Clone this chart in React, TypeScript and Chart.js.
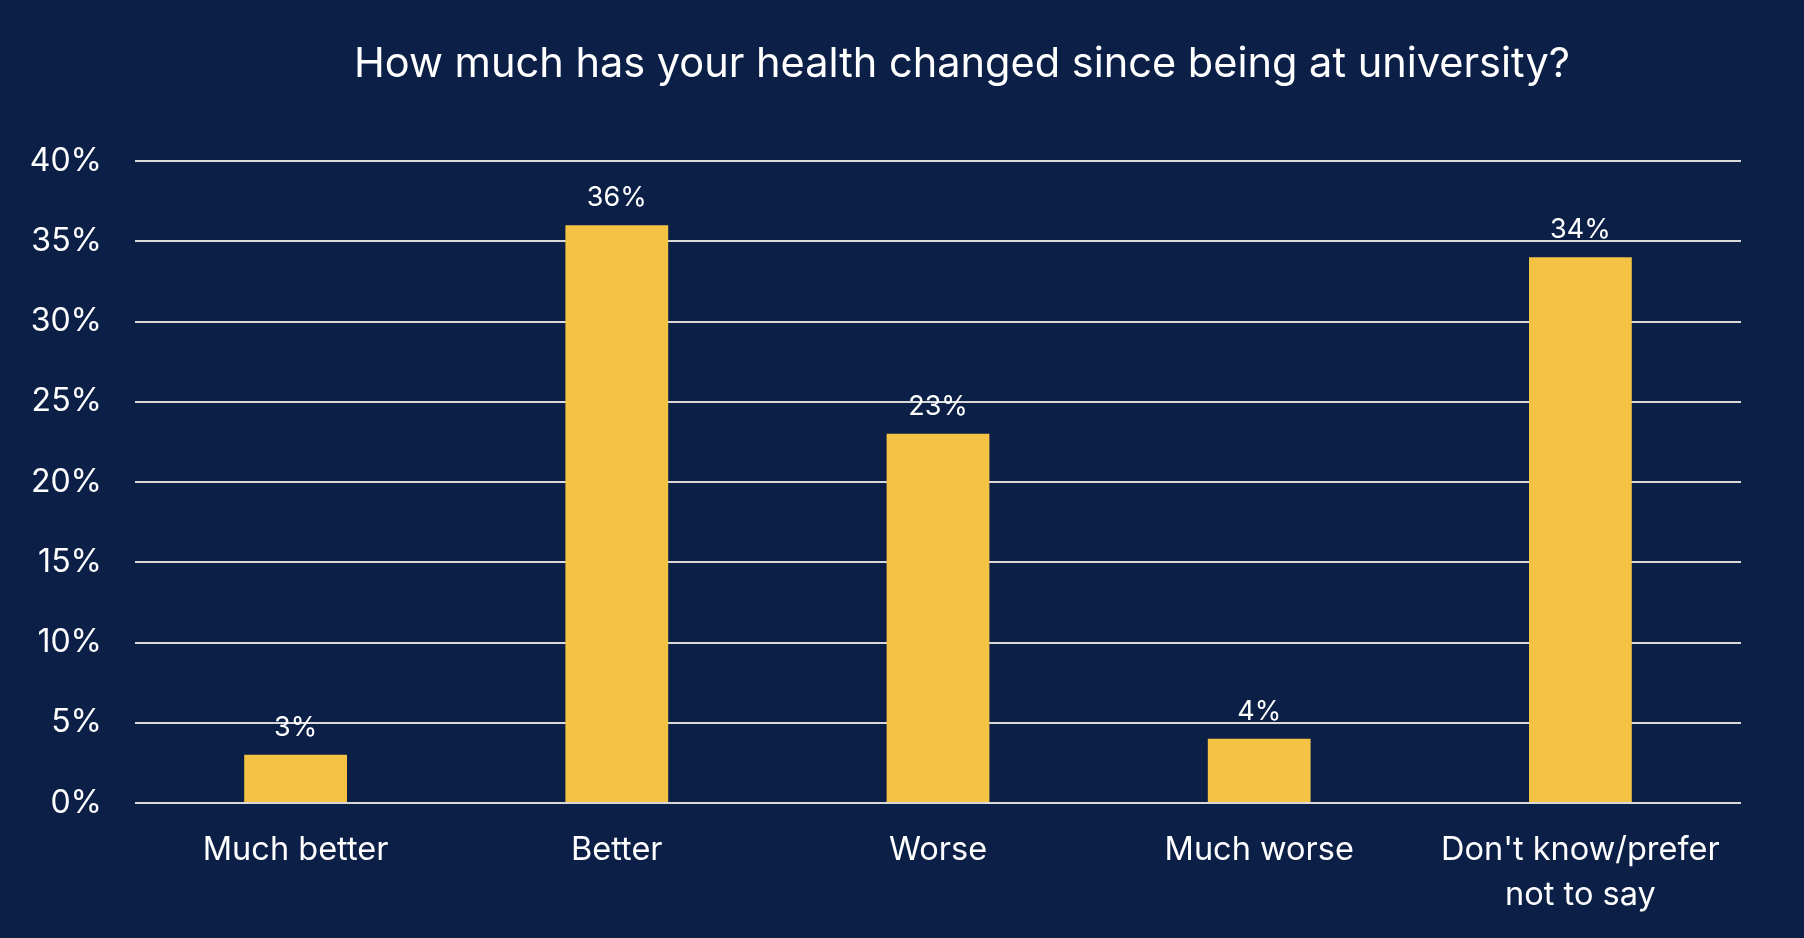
import React, { useEffect, useRef } from "react";
import { Chart, registerables } from "chart.js";

Chart.register(...registerables);

const categories: (string | string[])[] = [
  "Much better",
  "Better",
  "Worse",
  "Much worse",
  ["Don't know/prefer", "not to say"],
];
const values = [3, 36, 23, 4, 34];
const yMin = 0;
const yMax = 40;
const yStep = 5;
const titleText = "How much has your health changed since being at university?";

const BG = "#0b1f47";
const BAR = "#f5c343";
const GRID = "#d9d9d9";
const FONT = "Inter, 'Open Sans', sans-serif";

const titlePlugin = {
  id: "customTitle",
  afterDraw(chart: any) {
    const { ctx, chartArea } = chart;
    ctx.save();
    ctx.fillStyle = "#ffffff";
    ctx.font = `400 41.5px ${FONT}`;
    ctx.textAlign = "center";
    ctx.textBaseline = "alphabetic";
    ctx.fillText(titleText, (chartArea.left + chartArea.right) / 2 + 24, 77);
    ctx.restore();
  },
};

const valueLabelPlugin = {
  id: "valueLabels",
  afterDatasetsDraw(chart: any) {
    const { ctx } = chart;
    const meta = chart.getDatasetMeta(0);
    ctx.save();
    ctx.fillStyle = "#ffffff";
    ctx.font = `400 27px ${FONT}`;
    ctx.textAlign = "center";
    ctx.textBaseline = "alphabetic";
    meta.data.forEach((bar: any, i: number) => {
      ctx.fillText(`${values[i]}%`, bar.x, bar.y - 19);
    });
    ctx.restore();
  },
};

export default function App() {
  const ref = useRef<HTMLCanvasElement | null>(null);

  useEffect(() => {
    if (!ref.current) return;
    const chart = new Chart(ref.current, {
      type: "bar",
      data: {
        labels: categories as any,
        datasets: [
          {
            data: values,
            backgroundColor: BAR,
            borderWidth: 0,
            barPercentage: 0.64,
            categoryPercentage: 0.5,
          },
        ],
      },
      options: {
        animation: false,
        responsive: true,
        maintainAspectRatio: false,
        layout: { padding: { top: 161, right: 63, bottom: 0, left: 0 } },
        plugins: {
          legend: { display: false },
          title: { display: false },
          tooltip: { enabled: false },
        },
        scales: {
          x: {
            grid: { display: false, drawTicks: false },
            border: { display: false },
            ticks: {
              color: "#ffffff",
              font: { family: FONT, size: 32.5, lineHeight: 1.4 },
              padding: 24,
              maxRotation: 0,
              autoSkip: false,
            },
            afterFit(scale: any) {
              scale.height = 135;
            },
          },
          y: {
            min: yMin,
            max: yMax,
            grid: { color: GRID, lineWidth: 2, drawTicks: false },
            border: { display: false },
            ticks: {
              stepSize: yStep,
              color: "#ffffff",
              font: { family: FONT, size: 32 },
              padding: 33,
              callback: (v: any) => `${v}%`,
            },
            afterFit(scale: any) {
              scale.width = 135;
            },
          },
        },
      },
      plugins: [titlePlugin, valueLabelPlugin],
    });
    return () => chart.destroy();
  }, []);

  return (
    <div
      style={{
        position: "fixed",
        left: 0,
        top: 0,
        width: 1804,
        height: 938,
        background: BG,
      }}
    >
      <canvas ref={ref} />
    </div>
  );
}
